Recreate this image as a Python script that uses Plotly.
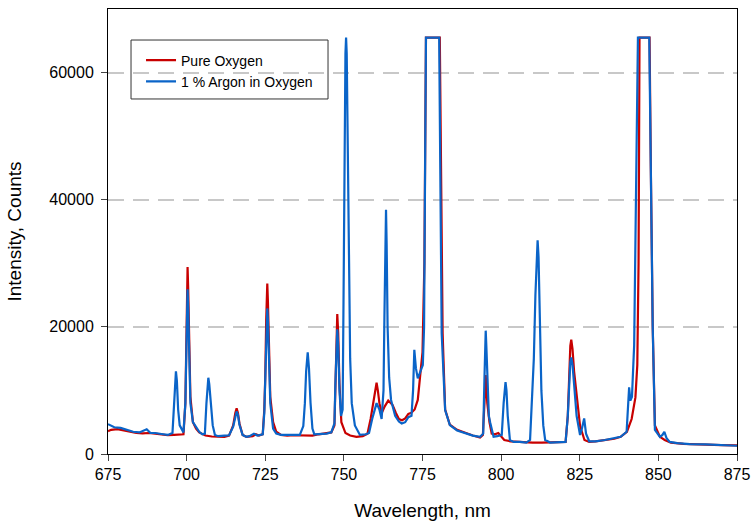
import plotly.graph_objects as go

# Pure Oxygen spectrum (wavelength nm, counts)
red_nm = [675, 676, 678, 680, 682, 684, 686, 688, 690, 692, 694, 696, 698, 699, 699.6, 699.9, 700.1, 700.3, 700.5,
          700.8, 701.2, 702, 703, 704, 706, 708, 710, 712, 713.5, 714.8, 715.5, 715.9, 716.3, 716.8, 717.8, 719,
          721, 722, 723, 724.2, 724.7, 725.0, 725.3, 725.5, 725.65, 725.85, 726.1, 726.6, 727.5, 728.5, 730, 732,
          734, 736, 738, 740, 742, 744, 746, 747.0, 747.3, 747.6, 747.9, 748.2, 748.6, 749.2, 750.5, 752, 754, 756,
          757.5, 758.5, 759.6, 760.1, 760.4, 760.8, 761.3, 762.0, 763.0, 764.1, 765.5, 766.5, 767.5, 768.5, 769.5,
          770.5, 771.5, 772.5, 773.5, 774.2, 775, 775.6, 776.1, 780.5, 781.0, 781.4, 782.2, 783.7, 786, 789, 791,
          793.3, 794.2, 794.7, 795.1, 795.6, 796.3, 797, 798, 799.1, 800, 801, 803, 806, 810, 813, 816, 819, 820.5,
          821.2, 821.6, 822.0, 822.3, 822.7, 823.2, 824, 825.1, 826.5, 828, 830, 833, 836, 838, 840, 841.5, 842.7,
          843.3, 843.7, 844.0, 847.2, 847.6, 848.2, 848.9, 850.5, 852, 854, 858, 862, 866, 870, 875]
red_counts = [3600, 3800, 3900, 3700, 3500, 3300, 3250, 3300, 3200, 3050, 2950, 3000, 3000, 3100, 8000, 20000, 27000,
              29400, 26000, 17000, 9000, 5000, 4000, 3400, 2900, 2750, 2700, 2700, 2900, 4500, 6500, 7200, 6500,
              4800, 3000, 2700, 2800, 3100, 2900, 3100, 7000, 12000, 21000, 25500, 26800, 24000, 18000, 9000, 5000,
              3500, 3000, 2900, 2950, 2900, 2850, 2900, 3100, 3250, 3400, 4500, 11000, 19000, 22000, 19000, 11000,
              5000, 3300, 2900, 2700, 2800, 3200, 5500, 9000, 10800, 11200, 10000, 8000, 6400, 7500, 8400, 7700,
              6500, 5500, 5300, 5600, 6300, 6500, 7000, 8500, 12000, 16000, 30000, 65500, 65500, 40000, 19000, 7000,
              4600, 3800, 3200, 2900, 2600, 3000, 8000, 12400, 8000, 5000, 3200, 3100, 3300, 2800, 2200, 2000, 1900,
              1800, 1800, 1800, 1800, 1900, 6000, 13000, 17000, 18000, 16500, 13000, 9000, 4400, 2200, 1900, 2000,
              2200, 2400, 2700, 3500, 5500, 8900, 14000, 30000, 65500, 65500, 45000, 20000, 4500, 2700, 2200, 1800,
              1600, 1500, 1450, 1400, 1350]

# 1 % Argon in Oxygen spectrum
blue_nm = [675, 676, 677, 679, 681, 683, 685, 687.3, 688.5, 690, 692, 694, 695.5, 696.0, 696.3, 696.6, 696.9, 697.3,
           697.8, 699, 699.6, 699.9, 700.1, 700.3, 700.5, 700.8, 701.2, 702, 703, 704, 705, 705.8, 706.3, 706.6,
           706.9, 707.2, 707.6, 708.3, 709, 710, 712, 713.5, 714.8, 715.5, 715.9, 716.3, 716.8, 717.8, 719, 720,
           721.4, 722.5, 724.2, 724.7, 725.0, 725.3, 725.5, 725.65, 725.85, 726.1, 726.6, 727.5, 728.5, 730, 732,
           734, 736, 737.1, 737.6, 738.0, 738.5, 738.9, 739.4, 740.0, 740.6, 742, 744.5, 746, 747.0, 747.3, 747.6,
           747.9, 748.2, 748.6, 749.1, 749.6, 749.9, 750.2, 750.5, 750.7, 750.9, 751.2, 751.6, 752.0, 752.5, 753.5,
           755.1, 757, 758, 759, 760.4, 761.3, 762.0, 762.6, 762.9, 763.2, 763.4, 763.6, 763.9, 764.4, 765, 766.3,
           767.5, 768.4, 769.5, 770.5, 771.5, 772.0, 772.4, 772.9, 773.5, 774.2, 775.1, 775.5, 775.9, 776.1, 780.3,
           780.7, 781.1, 782.2, 783.7, 786, 789, 791, 793.3, 794.3, 794.7, 794.9, 795.1, 795.3, 795.6, 796.1, 796.5,
           797.6, 798.8, 800.2, 800.8, 801.1, 801.4, 801.7, 802.1, 802.8, 804, 806, 808, 809.2, 809.8, 810.4, 810.9,
           811.3, 811.6, 811.9, 812.3, 812.8, 813.4, 814.0, 815.6, 818, 820.5, 821.2, 821.6, 822.0, 822.3, 822.7,
           823.2, 824.0, 825.1, 825.7, 826.4, 827.0, 828, 830, 833, 836, 838, 839.9, 840.4, 840.7, 841.1, 841.6,
           842.3, 842.9, 843.5, 847.1, 847.5, 848.2, 848.9, 850.5, 851.3, 851.9, 852.6, 853.6, 856, 860, 865, 870,
           875]
blue_counts = [4700, 4400, 4200, 4100, 3800, 3500, 3400, 3900, 3300, 3300, 3150, 3000, 3300, 8000, 11500, 13000,
               11500, 7000, 4500, 3400, 8000, 18000, 24000, 25900, 23000, 15000, 8000, 5000, 4200, 3500, 3100, 3200,
               8000, 11000, 12000, 11000, 8000, 4500, 3000, 2800, 2900, 2950, 4300, 6200, 6700, 6200, 4600, 3000,
               2700, 2800, 3200, 2900, 3100, 6500, 11000, 18000, 21500, 22900, 21000, 16000, 8000, 4000, 3200,
               3000, 2950, 3000, 3000, 4400, 8000, 13000, 16000, 13500, 8000, 4000, 3100, 3100, 3200, 3400, 4800,
               11000, 17500, 19600, 17000, 10000, 6000, 7000, 25000, 50000, 63000, 65500, 63000, 50000, 30000,
               15000, 8000, 4500, 3000, 3100, 3300, 5500, 8000, 7000, 5500, 10000, 22000, 34000, 38400, 33000, 20000,
               12000, 8500, 6000, 5100, 4800, 5000, 5800, 6000, 10000, 16400, 13500, 11900, 12800, 14000, 20000,
               50000, 65500, 65500, 40000, 19000, 6900, 4550, 3700, 3250, 2900, 2700, 3200, 12000, 17500, 19400,
               17000, 12000, 6000, 5000, 2700, 2800, 3000, 8000, 10500, 11300, 10000, 6000, 2200, 1900, 1900, 1800,
               2200, 9000, 15000, 25000, 31500, 33600, 31000, 22000, 10000, 4500, 2200, 1800, 1800, 1900, 6000,
               11500, 14500, 15200, 14000, 11000, 6000, 3000, 4000, 5600, 3200, 2000, 2000, 2200, 2500, 2700, 3500,
               7000, 10500, 8400, 9000, 17100, 40000, 65500, 65500, 45000, 20000, 3800, 2700, 3000, 3500, 2500, 1900,
               1700, 1550, 1500, 1400, 1300]

x_ticks = [675, 700, 725, 750, 775, 800, 825, 850, 875]
y_ticks = [0, 20000, 40000, 60000]

font_family = "Liberation Sans, Arial, sans-serif"

fig = go.Figure()
fig.add_trace(go.Scatter(x=red_nm, y=red_counts, mode="lines", name="Pure Oxygen",
                         line=dict(color="#C80000", width=2.2)))
fig.add_trace(go.Scatter(x=blue_nm, y=blue_counts, mode="lines", name="1 % Argon in Oxygen",
                         line=dict(color="#0A64C8", width=2.2)))

# legend frame (drawn as a paper-space rectangle)
fig.add_shape(type="rect", xref="paper", yref="paper",
              x0=0.0366, x1=0.3498, y0=0.7978, y1=0.9303,
              line=dict(color="#333333", width=1), fillcolor="white", layer="below")

fig.update_layout(
    width=753, height=527,
    margin=dict(l=108, r=16, t=9, b=73, autoexpand=False),
    paper_bgcolor="white", plot_bgcolor="white",
    font=dict(family=font_family, size=16, color="black"),
    showlegend=True,
    legend=dict(x=0.0525, y=0.8607, xanchor="left", yanchor="middle",
                borderwidth=0, bgcolor="rgba(0,0,0,0)",
                font=dict(size=14), tracegroupgap=0, itemwidth=30),
    xaxis=dict(range=[675, 875], tickvals=x_ticks, ticks="outside", ticklen=6,
               showline=True, linecolor="black", linewidth=1, mirror=True, automargin=False,
               showgrid=False, zeroline=False, tickfont=dict(size=16),
               title=dict(text="Wavelength, nm", font=dict(size=19), standoff=21)),
    yaxis=dict(range=[0, 70000], tickvals=y_ticks, tickformat="d", ticks="outside", ticklen=6,
               showline=True, linecolor="black", linewidth=1, mirror=True, automargin=False,
               showgrid=True, gridcolor="#C8C8C8", gridwidth=1.5, griddash="16px,9px",
               zeroline=False, tickfont=dict(size=16), ticklabelstandoff=4,
               title=dict(text="Intensity, Counts", font=dict(size=19), standoff=22)),
)

fig.write_html("out.html", config={"displayModeBar": False},
               post_script="document.body.style.margin='0';")
